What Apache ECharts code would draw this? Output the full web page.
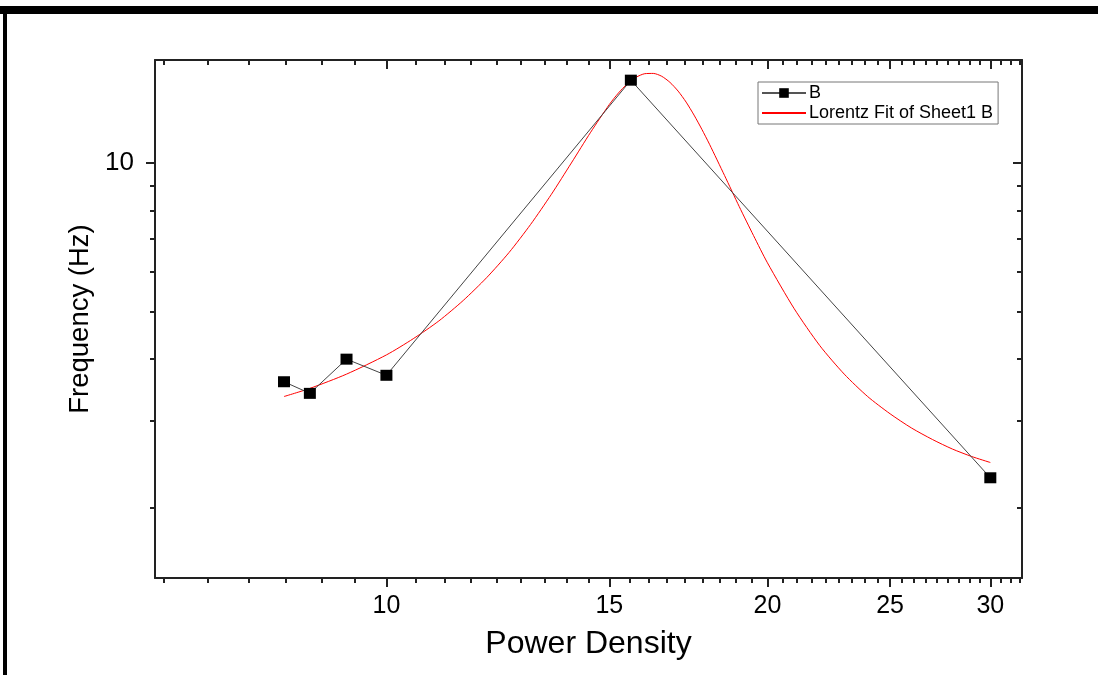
<!DOCTYPE html>
<html>
<head>
<meta charset="utf-8">
<script src="https://cdn.jsdelivr.net/npm/echarts@6/dist/echarts.min.js"></script>
<style>
html,body{margin:0;padding:0;background:#fff;}
#chart{width:1098px;height:675px;}
</style>
</head>
<body>
<div id="chart"></div>
<script>
// ---- data ----
const seriesBName = 'B';
const fitName = 'Lorentz Fit of Sheet1 B';
const bX = [8.3, 8.7, 9.3, 10.0, 15.6, 30.0];
const bY = [3.60, 3.41, 4.00, 3.71, 14.7, 2.30];
const fitX = [8.3, 8.7, 9.3, 10, 10.5, 11, 11.5, 12, 12.5, 13, 13.5, 14, 14.5, 15, 15.25, 15.5, 15.75, 16, 16.25, 16.5, 16.75, 17, 17.25, 17.5, 17.75, 18, 18.5, 19, 19.5, 20, 21, 22, 23, 24, 25, 26, 27, 28, 29, 30];
const fitY = [3.36, 3.49, 3.73, 4.08, 4.40, 4.78, 5.26, 5.85, 6.58, 7.50, 8.63, 9.99, 11.53, 13.12, 13.84, 14.45, 14.90, 15.15, 15.17, 14.97, 14.55, 13.97, 13.27, 12.49, 11.69, 10.90, 9.42, 8.15, 7.12, 6.27, 5.06, 4.26, 3.73, 3.36, 3.10, 2.90, 2.75, 2.63, 2.54, 2.47];
const xMajorTicks = [10, 15, 20, 25, 30];
const yMajorTicks = [10];
const yMinorTicks = [2, 3, 4, 5, 6, 7, 8, 9];
const xMin = 6.564, xMax = 31.78;
const yMin = 1.441, yMax = 16.15;
const xTitle = 'Power Density';
const yTitle = 'Frequency (Hz)';

// minor ticks of the x axis: 8 per major step of 5
const xMinorTicks = [];
for (let k = 12; k <= 57; k++) { if (k % 9 !== 0) xMinorTicks.push(k * 5 / 9); }

const FONT = 'Liberation Sans, Arial, sans-serif';
const AX = '#222';

function zip(a, b) { return a.map((v, i) => [v, b[i]]); }

function xAx(pos, ticks, len, inside, showLine, labels) {
  return {
    type: 'log', logBase: 10, min: xMin, max: xMax, position: pos,
    gridIndex: 0,
    name: labels ? xTitle : '',
    nameLocation: 'middle', nameGap: 50,
    nameTextStyle: { fontFamily: FONT, fontSize: 32, color: '#000' },
    axisLine: { show: showLine, lineStyle: { color: AX, width: 2 } },
    axisTick: { show: true, inside: inside, length: len, customValues: ticks, lineStyle: { color: AX, width: 2 } },
    axisLabel: labels ? { show: true, customValues: xMajorTicks, fontFamily: FONT, fontSize: 25, color: '#000', margin: 16 } : { show: false },
    minorTick: { show: false },
    splitLine: { show: false }
  };
}
function yAx(pos, ticks, len, inside, showLine, labels) {
  return {
    type: 'log', logBase: 10, min: yMin, max: yMax, position: pos,
    gridIndex: 0,
    name: labels ? yTitle : '',
    nameLocation: 'middle', nameGap: 55,
    nameTextStyle: { fontFamily: FONT, fontSize: 27.5, color: '#000' },
    axisLine: { show: showLine, lineStyle: { color: AX, width: 2 } },
    axisTick: { show: true, inside: inside, length: len, customValues: ticks, lineStyle: { color: AX, width: 2 } },
    axisLabel: labels ? { show: true, customValues: yMajorTicks, fontFamily: FONT, fontSize: 26, color: '#000', margin: 21 } : { show: false },
    minorTick: { show: false },
    splitLine: { show: false }
  };
}

const chart = echarts.init(document.getElementById('chart'), null, { renderer: 'canvas' });
chart.setOption({
  animation: false,
  backgroundColor: '#fff',
  grid: { left: 155, top: 60, right: 76, bottom: 97, containLabel: false },
  graphic: [
    { type: 'rect', shape: { x: 0, y: 6, width: 1098, height: 8 }, style: { fill: '#000' }, z: 100 },
    { type: 'rect', shape: { x: 3, y: 6, width: 4, height: 669 }, style: { fill: '#000' }, z: 100 }
  ],
  legend: {
    left: 758, top: 82,
    orient: 'vertical',
    backgroundColor: '#fff',
    borderColor: '#777', borderWidth: 1,
    padding: [2, 5, 2, 3],
    itemGap: 2,
    itemWidth: 44, itemHeight: 12,
    textStyle: { fontFamily: FONT, fontSize: 18, color: '#000', padding: [0, 0, 0, -2] },
    data: [
      { name: seriesBName, lineStyle: { color: '#555' } },
      { name: fitName, itemStyle: { opacity: 0 } }
    ]
  },
  xAxis: [
    xAx('bottom', xMajorTicks, 9, false, true, true),
    xAx('bottom', xMinorTicks, 5, false, false, false),
    xAx('top', xMajorTicks, 9, true, true, false),
    xAx('top', xMinorTicks, 5, true, false, false)
  ],
  yAxis: [
    yAx('left', yMajorTicks, 9, false, true, true),
    yAx('left', yMinorTicks, 5, false, false, false),
    yAx('right', yMajorTicks, 9, true, true, false),
    yAx('right', yMinorTicks, 5, true, false, false)
  ],
  series: [
    {
      name: seriesBName, type: 'line', xAxisIndex: 0, yAxisIndex: 0,
      data: zip(bX, bY),
      symbol: 'rect', symbolSize: [12, 11],
      itemStyle: { color: '#000' },
      lineStyle: { color: '#444', width: 1 },
      z: 3
    },
    {
      name: fitName, type: 'line', xAxisIndex: 0, yAxisIndex: 0,
      data: zip(fitX, fitY),
      smooth: 0.25,
      showSymbol: false, symbol: 'none',
      itemStyle: { color: '#ff0000' },
      lineStyle: { color: '#ff0000', width: 1 },
      z: 2
    }
  ]
});
</script>
</body>
</html>
